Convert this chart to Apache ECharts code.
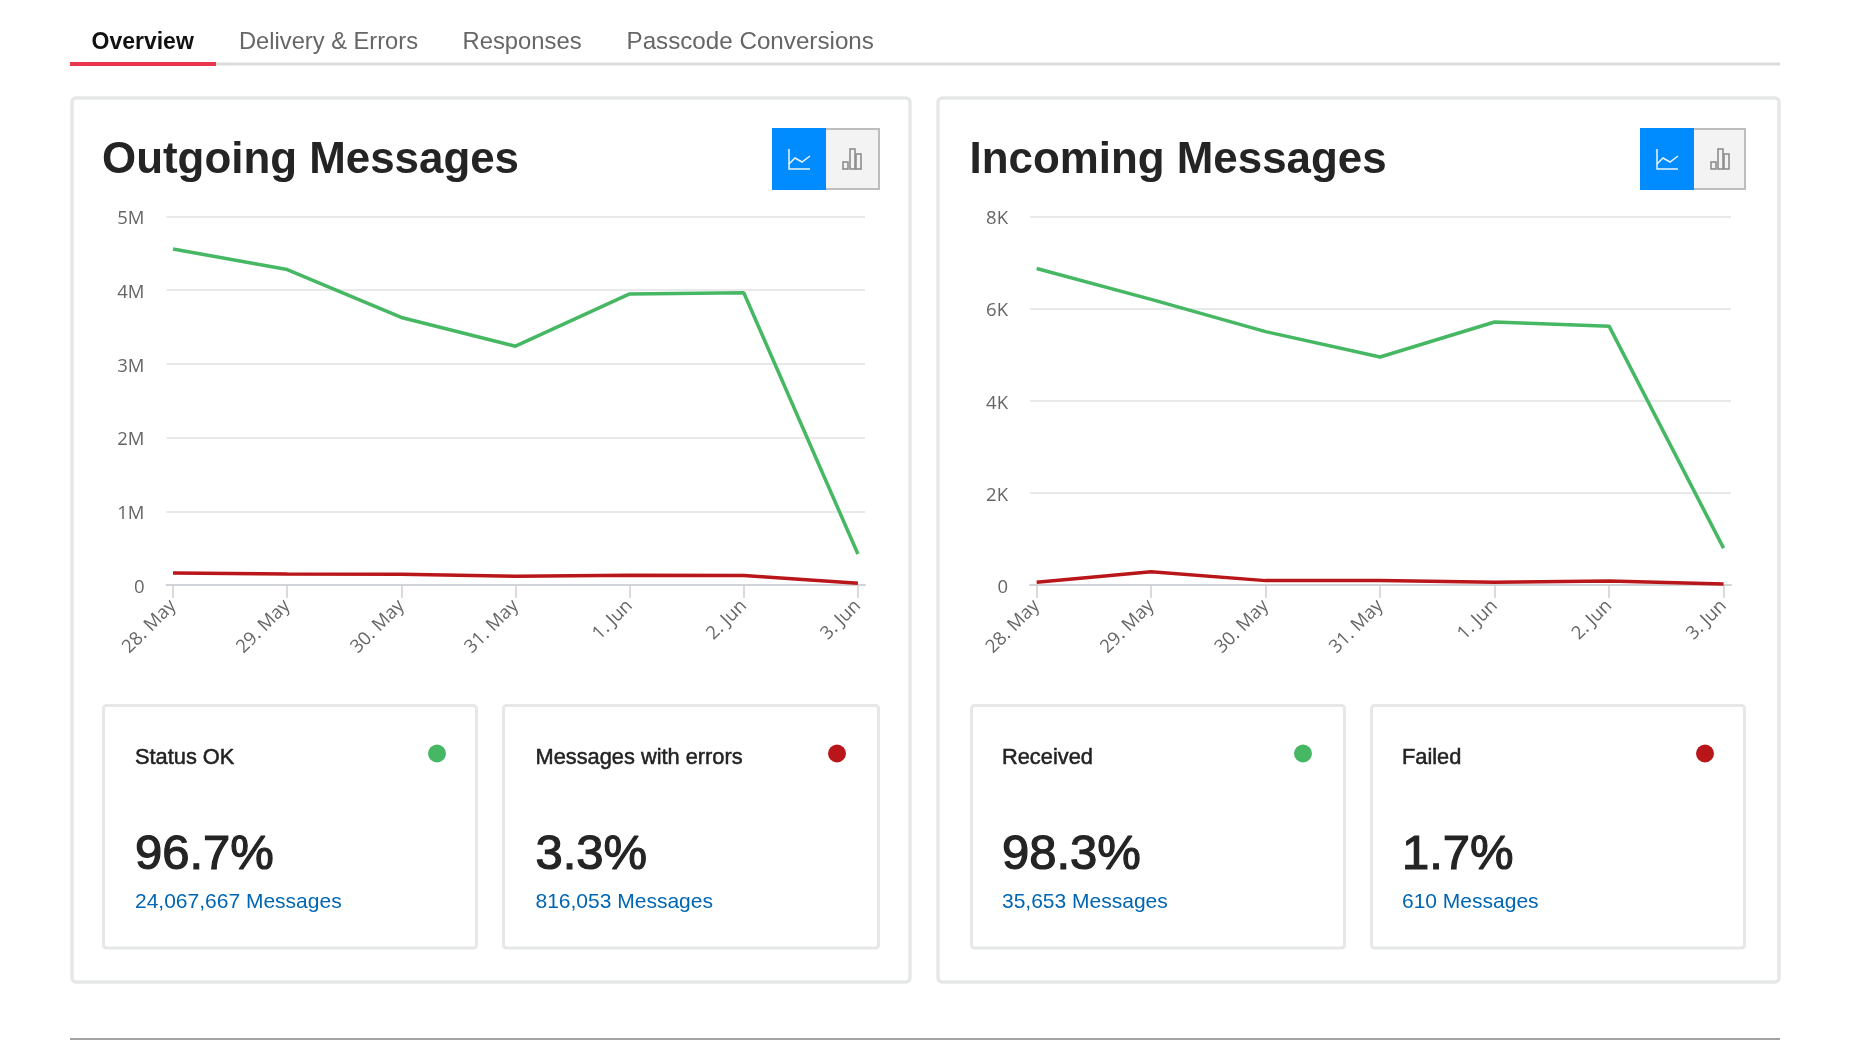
<!DOCTYPE html>
<html><head><meta charset="utf-8">
<style>html,body{margin:0;padding:0;background:#fff}#c{width:1864px;height:1044px}</style>
<script src="https://cdn.jsdelivr.net/npm/echarts@6/dist/echarts.min.js"></script>
</head><body><div id="c"></div>
<script>
const categories=['28. May','29. May','30. May','31. May','1. Jun','2. Jun','3. Jun'];
const outgoingOk=[4560000,4280000,3630000,3240000,3950000,3965000,420000];
const outgoingErrors=[163000,150000,145000,120000,133000,130000,25000];
const incomingOk=[6870,6200,5500,4950,5710,5620,800];
const incomingFailed=[60,290,95,95,60,85,20];
const outgoingTicks=['0','1M','2M','3M','4M','5M'];
const incomingTicks=['0','2K','4K','6K','8K'];
const tabs=['Overview','Delivery & Errors','Responses','Passcode Conversions'];
const cards=[
 ['Status OK','96.7%','24,067,667 Messages'],
 ['Messages with errors','3.3%','816,053 Messages'],
 ['Received','98.3%','35,653 Messages'],
 ['Failed','1.7%','610 Messages']];
const GREEN='#46b864',RED='#b9161a',FONT='"Liberation Sans",Arial,sans-serif',AXF='"Open Sans",sans-serif';

const g=[];
const rect=(x,y,w,h,fill,stroke,lw,r)=>g.push({type:'rect',silent:true,shape:{x,y,width:w,height:h,r:r||0},style:{fill:fill,stroke:stroke||null,lineWidth:lw||0}});
const text=(x,y,t,font,fill,extra)=>g.push({type:'text',silent:true,x,y,style:Object.assign({text:t,font:font,fill:fill,verticalAlign:'middle',align:'left'},extra||{})});
const line=(pts,stroke,lw)=>g.push({type:'polyline',silent:true,shape:{points:pts},style:{stroke,lineWidth:lw,fill:null}});

// tabs
rect(70,62.5,1710,3,'#dcdcdc');
rect(70,62,146,4,'#e8364a');
[[91.5,true,23],[239,false,23.7],[462.5,false,23.8],[626.5,false,24.2]].forEach((t,i)=>
  text(t[0],42.5,tabs[i],(t[1]?'bold ':'')+t[2]+'px '+FONT,t[1]?'#111':'#666'));
// panels
[[72,838,'Outgoing Messages',102,772,108],[938,841,'Incoming Messages',969.5,1640,106]].forEach(p=>{
  rect(p[0],98,p[1],884,'#fff','#e6e7e8',3.5,4);
  text(p[3],161,p[2],'bold 43.9px '+FONT,'#242424');
  const b=p[4],w=p[5];
  rect(b+53,129,w-54,60,'#f3f3f3','#bdbdbd',2);
  rect(b,128,54,62,'#008cff');
  line([[b+17,149],[b+17,169],[b+38,169]],'#e8f3ff',1.5);
  line([[b+17,164],[b+23,158],[b+30,162],[b+38,156]],'#e8f3ff',1.5);
  const o=b+71;
  rect(o,162,5,7,null,'#888',1.5);
  rect(o+7,149,5,20,null,'#888',1.5);
  rect(o+13,154,5,15,null,'#888',1.5);
});
// cards
[[103.5,373,135,437,GREEN],[503.5,375,535.5,837,RED],[971.5,373,1002,1303,GREEN],[1371.5,373,1402,1705,RED]].forEach((c,i)=>{
  rect(c[0],705.5,c[1],242.5,'#fff','#e6e7e8',3,3);
  const cd=cards[i];
  text(c[2],758,cd[0],'21.8px '+FONT,'#222',{stroke:'#222',lineWidth:0.5});
  text(c[2],855.5,cd[1],'49px '+FONT,'#242424',{stroke:'#242424',lineWidth:1.2});
  text(c[2],902,cd[2],'21px '+FONT,'#0066b3');
  g.push({type:'circle',silent:true,shape:{cx:c[3],cy:753.5,r:9},style:{fill:c[4]}});
});
rect(70,1038,1710,2,'#a3a3a3');

const xIdx=categories.map((_,i)=>i);
const xAxis=(idx,min,max)=>({type:'value',gridIndex:idx,min,max,
  splitLine:{show:false},
  axisLine:{show:true,lineStyle:{color:'#d0d3d8',width:2}},
  axisTick:{show:true,customValues:xIdx,length:13,lineStyle:{color:'#cfcfcf',width:1.5}},
  axisLabel:{customValues:xIdx,rotate:45,margin:18,color:'#666',fontFamily:AXF,fontSize:18.5,formatter:v=>categories[v]}});
const yAxis=(idx,step,labels)=>({type:'value',gridIndex:idx,min:0,max:step*(labels.length-1),interval:step,
  axisLine:{show:false},axisTick:{show:false},
  splitLine:{lineStyle:{color:'#e2e2e2',width:1.5}},
  axisLabel:{margin:22,color:'#666',fontFamily:AXF,fontSize:18.5,verticalAlign:'top',lineHeight:5,formatter:v=>labels[Math.round(v/step)]}});
const ser=(idx,name,vals,color)=>({type:'line',name,xAxisIndex:idx,yAxisIndex:idx,data:vals.map((v,i)=>[i,v]),
  symbol:'none',silent:true,lineStyle:{color,width:3.5},itemStyle:{color},animation:false});

const chart=echarts.init(document.getElementById('c'));
chart.setOption({
  animation:false,backgroundColor:'#fff',
  graphic:g,
  grid:[
    {left:166.5,width:698.5,top:216.5,height:368.5},
    {left:1030,width:701,top:216.5,height:368.5}],
  xAxis:[xAxis(0,-0.057,6.062),xAxis(1,-0.058,6.065)],
  yAxis:[yAxis(0,1000000,outgoingTicks),yAxis(1,2000,incomingTicks)],
  series:[
    ser(0,'Status OK',outgoingOk,GREEN),
    ser(0,'Messages with errors',outgoingErrors,RED),
    ser(1,'Received',incomingOk,GREEN),
    ser(1,'Failed',incomingFailed,RED)]
});
</script></body></html>
